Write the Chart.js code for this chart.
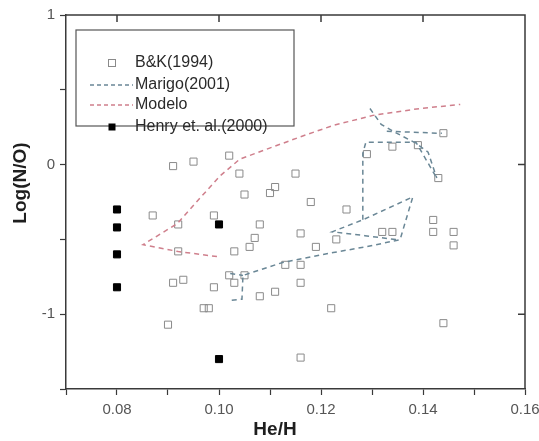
<!DOCTYPE html>
<html>
<head>
<meta charset="utf-8">
<script src="https://cdn.jsdelivr.net/npm/chart.js@4.4.0/dist/chart.umd.min.js"></script>
<style>
    html, body { margin: 0; padding: 0; background: #fff; }
</style>
</head>
<body>
<canvas id="chart" width="539" height="441"></canvas>
<script>
// B&K(1994) - He/H, Log(N/O)
const bkPoints = [
    [0.091, -0.01], [0.095, 0.02], [0.102, 0.06], [0.104, -0.06], [0.105, -0.20],
    [0.111, -0.15], [0.110, -0.19], [0.115, -0.06], [0.118, -0.25], [0.125, -0.30],
    [0.144, 0.21], [0.134, 0.12], [0.139, 0.13], [0.129, 0.07], [0.143, -0.09],
    [0.087, -0.34], [0.092, -0.40], [0.099, -0.34], [0.092, -0.58], [0.091, -0.79],
    [0.093, -0.77], [0.099, -0.82], [0.097, -0.96], [0.098, -0.96], [0.090, -1.07],
    [0.108, -0.40], [0.107, -0.49], [0.116, -0.46], [0.106, -0.55], [0.119, -0.55],
    [0.123, -0.50], [0.103, -0.58], [0.113, -0.67], [0.116, -0.67], [0.102, -0.74],
    [0.105, -0.74], [0.103, -0.79], [0.116, -0.79], [0.108, -0.88], [0.111, -0.85],
    [0.122, -0.96], [0.132, -0.45], [0.134, -0.45], [0.142, -0.37], [0.142, -0.45],
    [0.146, -0.45], [0.146, -0.54], [0.144, -1.06], [0.116, -1.29],
];

// Henry et. al.(2000)
const henryPoints = [
    [0.080, -0.30], [0.080, -0.42], [0.080, -0.60], [0.080, -0.82],
    [0.100, -0.40], [0.100, -1.30],
];

// Modelo
const modeloLine = [
    [0.0996, -0.615], [0.0920, -0.581], [0.0851, -0.535], [0.0918, -0.395],
    [0.0963, -0.223], [0.1002, -0.076], [0.1041, 0.037], [0.1159, 0.185],
    [0.1224, 0.262], [0.1302, 0.329], [0.1394, 0.375], [0.1473, 0.402],
];

// Marigo(2001) - varias trilhas
const marigoTrack1 = [
    [0.1025, -0.907], [0.1045, -0.900], [0.1047, -0.741], [0.1125, -0.654],
    [0.1224, -0.588], [0.1290, -0.548], [0.1355, -0.502], [0.1380, -0.216],
    [0.1282, -0.369], [0.1222, -0.449], [0.1286, -0.475], [0.1349, -0.502],
];
const marigoTrack2 = [[0.1022, -0.728], [0.1047, -0.741]];
const marigoTrack3 = [
    [0.1282, -0.369], [0.1282, 0.076], [0.1288, 0.150], [0.1386, 0.150], [0.1427, -0.090],
];
const marigoTrack4 = [
    [0.1296, 0.375], [0.1318, 0.269], [0.1345, 0.216], [0.1386, 0.143],
    [0.1410, 0.083], [0.1427, -0.090],
];
const marigoTrack5 = [[0.1329, 0.223], [0.1437, 0.209]];

const xTopTicks = [0.08, 0.10, 0.12, 0.14];
const yRightTicks = [0, -1];

const axisColor = '#3a3a3a';
const bkColor = '#8a8a8a';
const marigoColor = '#6a8796';
const modeloColor = '#cf7f8c';

const toXY = (arr) => arr.map(([x, y]) => ({ x, y }));

function lineDataset(label, points, color) {
    return {
        label,
        data: toXY(points),
        showLine: true,
        borderColor: color,
        borderWidth: 1.5,
        borderDash: [5, 4],
        pointRadius: 0,
        fill: false,
    };
}

// moldura, legenda e títulos
const framePlugin = {
    id: 'frame',
    afterDraw(chart) {
        const { ctx, chartArea: a, scales } = chart;
        ctx.save();

        // borda superior e direita + ticks internos
        ctx.strokeStyle = axisColor;
        ctx.lineWidth = 1.5;
        ctx.beginPath();
        ctx.moveTo(a.left, a.top);
        ctx.lineTo(a.right, a.top);
        ctx.lineTo(a.right, a.bottom);
        xTopTicks.forEach((v) => {
            const px = scales.x.getPixelForValue(v);
            ctx.moveTo(px, a.top);
            ctx.lineTo(px, a.top + 7);
        });
        yRightTicks.forEach((v) => {
            const py = scales.y.getPixelForValue(v);
            ctx.moveTo(a.right, py);
            ctx.lineTo(a.right - 7, py);
        });
        ctx.stroke();

        // legenda
        const bx = a.left + 10, by = a.top + 15, bw = 218, bh = 96;
        ctx.fillStyle = '#fff';
        ctx.fillRect(bx, by, bw, bh);
        ctx.lineWidth = 1.2;
        ctx.strokeStyle = '#555';
        ctx.strokeRect(bx, by, bw, bh);

        const items = [
            { text: 'B&K(1994)', kind: 'open' },
            { text: 'Marigo(2001)', kind: 'line', color: marigoColor },
            { text: 'Modelo', kind: 'line', color: modeloColor },
            { text: 'Henry et. al.(2000)', kind: 'filled' },
        ];
        const rowY = [33, 55, 75, 97];
        ctx.font = '16px "Liberation Sans", Arial, sans-serif';
        ctx.textBaseline = 'middle';
        items.forEach((it, i) => {
            const y = by + rowY[i];
            const cx = bx + 36;
            if (it.kind === 'open') {
                ctx.strokeStyle = bkColor;
                ctx.lineWidth = 1;
                ctx.strokeRect(cx - 3.5, y - 3.5, 7, 7);
            } else if (it.kind === 'filled') {
                ctx.fillStyle = '#000';
                ctx.fillRect(cx - 3.5, y - 3.5, 7, 7);
            } else {
                ctx.strokeStyle = it.color;
                ctx.lineWidth = 1.3;
                ctx.setLineDash([4, 3]);
                ctx.beginPath();
                ctx.moveTo(bx + 14, y);
                ctx.lineTo(bx + 57, y);
                ctx.stroke();
                ctx.setLineDash([]);
            }
            ctx.fillStyle = '#2a2a2a';
            ctx.fillText(it.text, bx + 59, y);
        });

        // títulos dos eixos
        ctx.fillStyle = '#1e1e1e';
        ctx.font = 'bold 19px "Liberation Sans", Arial, sans-serif';
        ctx.textAlign = 'center';
        ctx.textBaseline = 'middle';
        ctx.fillText('He/H', 275, 430);
        ctx.translate(21, 183);
        ctx.rotate(-Math.PI / 2);
        ctx.fillText('Log(N/O)', 0, 0);

        ctx.restore();
    },
};

const ctx = document.getElementById('chart').getContext('2d');
new Chart(ctx, {
    type: 'scatter',
    data: {
        datasets: [
            lineDataset('Modelo', modeloLine, modeloColor),
            lineDataset('Marigo(2001)', marigoTrack1, marigoColor),
            lineDataset('Marigo(2001)', marigoTrack2, marigoColor),
            lineDataset('Marigo(2001)', marigoTrack3, marigoColor),
            lineDataset('Marigo(2001)', marigoTrack4, marigoColor),
            lineDataset('Marigo(2001)', marigoTrack5, marigoColor),
            {
                label: 'B&K(1994)',
                data: toXY(bkPoints),
                pointStyle: 'rect',
                pointRadius: 5,
                borderColor: bkColor,
                borderWidth: 1,
                backgroundColor: 'rgba(255,255,255,0)',
            },
            {
                label: 'Henry et. al.(2000)',
                data: toXY(henryPoints),
                pointStyle: 'rect',
                pointRadius: 5,
                borderColor: '#000',
                borderWidth: 1,
                backgroundColor: '#000',
            },
        ],
    },
    options: {
        responsive: false,
        animation: false,
        layout: { padding: { left: 0, top: 15, right: 14, bottom: 0 } },
        plugins: {
            legend: { display: false },
            tooltip: { enabled: false },
        },
        scales: {
            x: {
                type: 'linear',
                min: 0.07,
                max: 0.16,
                afterFit: (scale) => {
                    scale.height = 52;
                    scale.paddingLeft = 0;
                    scale.paddingRight = 0;
                },
                border: { display: true, color: axisColor, width: 1.5 },
                grid: { drawOnChartArea: false, drawTicks: true, tickLength: 6, tickColor: axisColor, tickWidth: 1.2 },
                ticks: {
                    stepSize: 0.01,
                    padding: 6,
                    color: '#555',
                    font: { size: 15, family: '"Liberation Sans", Arial, sans-serif' },
                    maxRotation: 0,
                    autoSkip: false,
                    callback: (value) => {
                        const v = Math.round(value * 100);
                        return v % 2 === 0 ? (v / 100).toFixed(2) : '';
                    },
                },
            },
            y: {
                type: 'linear',
                min: -1.5,
                max: 1,
                afterFit: (scale) => {
                    scale.width = 66;
                    scale.paddingTop = 0;
                    scale.paddingBottom = 0;
                },
                border: { display: true, color: axisColor, width: 1.5 },
                grid: { drawOnChartArea: false, drawTicks: true, tickLength: 6, tickColor: axisColor, tickWidth: 1.2 },
                ticks: {
                    stepSize: 0.5,
                    padding: 5,
                    color: '#555',
                    font: { size: 15, family: '"Liberation Sans", Arial, sans-serif' },
                    autoSkip: false,
                    callback: (value) => (Math.abs(value - Math.round(value)) < 1e-6 ? String(Math.round(value)) : ''),
                },
            },
        },
    },
    plugins: [framePlugin],
});
</script>
</body>
</html>
